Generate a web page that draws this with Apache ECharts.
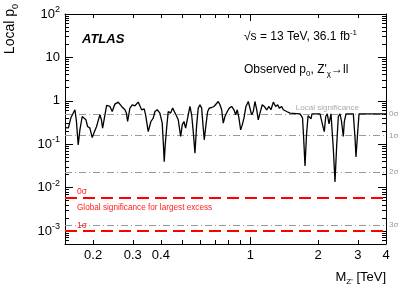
<!DOCTYPE html>
<html>
<head>
<meta charset="utf-8">
<script src="https://cdn.jsdelivr.net/npm/echarts@6/dist/echarts.min.js"></script>
<style>
html,body{margin:0;padding:0;background:#fff;}
#chart{width:407px;height:292px;}
</style>
</head>
<body>
<div id="chart"></div>
<script>
// ---- data ----
const massTeV = [
  0.150,0.1553,0.1593,0.1660,0.1685,0.1717,0.1747,0.1789,0.1820,0.1858,
  0.1890,0.1935,0.1981,0.2026,0.2072,0.2111,0.2144,0.2177,0.2204,0.2245,
  0.2296,0.2375,0.2431,0.2499,0.2585,0.2677,0.2768,0.2811,0.2846,0.2913,
  0.2983,0.3067,0.3172,0.3228,0.3284,0.3373,0.3421,0.3514,0.3612,0.3698,
  0.3763,0.3852,0.3960,0.4055,0.4105,0.4139,0.4181,0.4242,0.4312,0.4419,
  0.4510,0.4585,0.4666,0.4777,0.4896,0.4977,0.5064,0.5152,0.5292,0.5384,
  0.5479,0.5569,0.5667,0.5767,0.5861,0.5965,0.6069,0.6169,0.6233,0.6342,
  0.6454,0.6561,0.6724,0.6884,0.7026,0.7193,0.7319,0.7447,0.7570,0.7703,
  0.7887,0.8050,0.8250,0.8446,0.8593,0.8735,0.8889,0.9045,0.9196,0.9356,
  0.9550,0.9777,0.9949,1.012,1.029,1.047,1.066,1.083,1.102,1.128,
  1.152,1.180,1.208,1.233,1.263,1.294,1.321,1.343,1.376,1.399,
  1.423,1.448,1.472,1.498,1.524,1.660,1.703,1.720,1.747,1.774,
  1.802,1.830,1.857,1.876,2.037,2.073,2.107,2.128,2.159,2.194,
  2.233,2.279,2.333,2.374,2.416,2.456,2.499,2.538,2.585,2.612,
  2.658,2.863,2.913,2.943,2.983,3.035,4.0
];
const localP0 = [
  0.24,0.238,0.405,0.620,0.35,0.0963,0.214,0.434,0.475,0.364,
  0.255,0.234,0.142,0.192,0.255,0.364,0.475,0.364,0.234,0.405,
  0.779,0.739,0.566,0.839,0.933,0.739,0.620,0.520,0.333,0.678,
  0.809,0.767,0.933,0.885,0.620,0.653,0.475,0.195,0.333,0.399,
  0.566,0.620,0.520,0.305,0.0963,0.0396,0.0963,0.234,0.566,0.520,
  0.678,0.739,0.475,0.364,0.150,0.279,0.333,0.234,0.475,0.739,
  0.475,0.195,0.0620,0.279,0.678,0.809,0.678,0.234,0.126,0.279,
  0.566,0.678,0.700,0.739,0.779,0.963,0.809,0.620,0.305,0.434,
  0.566,0.678,0.739,0.620,0.475,0.620,0.399,0.214,0.279,0.399,
  0.739,0.963,0.885,0.475,0.566,0.963,0.620,0.364,0.520,0.809,
  0.739,0.620,0.739,0.620,0.933,0.739,0.809,0.678,0.739,0.620,
  0.653,0.566,0.620,0.520,0.5,0.5,0.405,0.164,0.0316,0.164,
  0.450,0.5,0.384,0.5,0.5,0.475,0.234,0.195,0.434,0.5,
  0.294,0.5,0.0808,0.0135,0.0963,0.434,0.5,0.333,0.150,0.333,
  0.5,0.5,0.142,0.0509,0.142,0.5,0.5
];
const xTickLabels = [0.2, 0.3, 0.4, 1, 2, 3, 4];
const xMinorTicks = [0.2, 0.3, 0.4, 0.5, 0.6, 0.7, 0.8, 0.9, 2, 3, 4];
const xMajorTicks = [1];
const yDecades = [0.001, 0.01, 0.1, 1, 10, 100];
const yMinorTicks = [];
[0.0001, 0.001, 0.01, 0.1, 1, 10].forEach(function (d) {
  for (let k = 2; k <= 9; k++) { const v = +(d * k).toPrecision(3); if (v >= 0.0005 && v <= 100) yMinorTicks.push(v); }
});
const localSigmaP = [0.5, 0.1587, 0.02275, 0.00135];
const localSigmaNames = ['0σ', '1σ', '2σ', '3σ'];
const globalSigmaP = [0.0057, 0.001];
const globalSigmaNames = ['0σ', '1σ'];

const FONT = "'Liberation Sans', Arial, Helvetica, sans-serif";
const X_MIN = 0.15, X_MAX = 4, Y_MIN = 0.0005, Y_MAX = 100;
const HIDDEN_LINE = { color: 'rgba(0,0,0,0)', width: 0 };

function xAx(pos, ticks, len, showLine, showLabel) {
  return {
    type: 'log', logBase: 10, min: X_MIN, max: X_MAX, position: pos,
    axisLine: { show: showLine, lineStyle: { color: '#000', width: 1 } },
    axisTick: { show: true, inside: true, length: len, customValues: ticks, lineStyle: { color: '#000', width: 1 } },
    axisLabel: showLabel ? {
      show: true, customValues: xTickLabels, fontFamily: FONT, fontSize: 13, color: '#000', margin: 5,
      formatter: function (v) { return String(+(+v).toPrecision(3)); }
    } : { show: false },
    splitLine: { show: false }, minorTick: { show: false }
  };
}
function yAx(pos, ticks, len, showLine, showLabel) {
  return {
    type: 'log', logBase: 10, min: Y_MIN, max: Y_MAX, position: pos,
    axisLine: { show: showLine, lineStyle: { color: '#000', width: 1 } },
    axisTick: { show: true, inside: true, length: len, customValues: ticks, lineStyle: { color: '#000', width: 1 } },
    axisLabel: showLabel ? {
      show: true, customValues: yDecades, fontFamily: FONT, fontSize: 13, color: '#000', margin: 5,
      lineHeight: 18,
      formatter: function (v) {
        const e = Math.round(Math.log10(+v));
        if (e === 0) return '1';
        if (e === 1) return '10';
        return '10{sup|' + e + '}';
      },
      rich: { sup: { fontSize: 9, fontFamily: FONT, color: '#000', verticalAlign: 'top', lineHeight: 18 } }
    } : { show: false },
    splitLine: { show: false }, minorTick: { show: false }
  };
}

const localMarks = [];
localSigmaP.forEach(function (p, i) {
  localMarks.push({
    yAxis: p,
    lineStyle: { color: '#999', width: 1, type: [7, 3, 1, 3] },
    label: { show: true, position: 'end', formatter: localSigmaNames[i], color: '#999', fontSize: 8, fontFamily: FONT, distance: 3 }
  });
});
localMarks.push({
  yAxis: localSigmaP[0],
  lineStyle: HIDDEN_LINE,
  label: { show: true, position: 'insideEndTop', formatter: 'Local significance', color: '#aaa', fontSize: 8, fontFamily: FONT, distance: [27, 2] }
});
const globalMarks = [
  { yAxis: globalSigmaP[0], lineStyle: { color: '#ff0000', width: 2, type: [12, 6] },
    label: { show: true, position: 'insideStartTop', formatter: globalSigmaNames[0], color: '#ff2020', fontSize: 8.5, fontFamily: FONT, distance: [12, 2] } },
  { yAxis: globalSigmaP[0], lineStyle: HIDDEN_LINE,
    label: { show: true, position: 'insideStartBottom', formatter: 'Global significance for largest excess', color: '#ff2020', fontSize: 8.2, fontFamily: FONT, distance: [12, 6] } },
  { yAxis: globalSigmaP[1], lineStyle: { color: '#ff0000', width: 2, type: [12, 6] },
    label: { show: true, position: 'insideStartTop', formatter: globalSigmaNames[1], color: '#ff2020', fontSize: 8.5, fontFamily: FONT, distance: [12, 1] } }
];

const chart = echarts.init(document.getElementById('chart'), null, { renderer: 'canvas' });
chart.setOption({
  animation: false,
  backgroundColor: '#fff',
  grid: { left: 65, right: 21, top: 14, bottom: 48, containLabel: false },
  xAxis: [
    xAx('bottom', xMinorTicks, 4, true, true),
    xAx('bottom', xMajorTicks, 7, false, false),
    xAx('top', xMinorTicks, 4, true, false),
    xAx('top', xMajorTicks, 7, false, false)
  ],
  yAxis: [
    yAx('left', yMinorTicks, 4, true, true),
    yAx('left', yDecades, 8, false, false),
    yAx('right', yMinorTicks, 4, true, false),
    yAx('right', yDecades, 8, false, false)
  ],
  series: [
    {
      type: 'line', xAxisIndex: 0, yAxisIndex: 0, data: [], z: 2, silent: true,
      markLine: { silent: true, symbol: 'none', animation: false, precision: 8, data: localMarks.concat(globalMarks) }
    },
    {
      name: 'Observed p0', type: 'line', xAxisIndex: 0, yAxisIndex: 0, z: 5,
      data: massTeV.map(function (m, i) { return [m, localP0[i]]; }),
      showSymbol: false, symbol: 'none', clip: true,
      lineStyle: { color: '#000', width: 1.3 }
    }
  ],
  graphic: [
    { type: 'text', x: 20, y: 4, rotation: Math.PI / 2,
      style: { text: 'Local p{sub|0}', fill: '#000', font: '14px ' + FONT, align: 'right', verticalAlign: 'bottom', lineHeight: 19,
        rich: { sub: { fontSize: 9, fontFamily: FONT, fill: '#000', verticalAlign: 'bottom', lineHeight: 19 } } } },
    { type: 'text', x: 386, y: 277,
      style: { text: 'M{sub|Z\'} [TeV]', fill: '#000', font: '13px ' + FONT, align: 'right', verticalAlign: 'middle', lineHeight: 18,
        rich: { sub: { fontSize: 8, fontFamily: FONT, fill: '#000', verticalAlign: 'bottom', lineHeight: 18 } } } },
    { type: 'text', x: 82, y: 39,
      style: { text: 'ATLAS', fill: '#000', font: 'italic bold 13px ' + FONT, align: 'left', verticalAlign: 'middle' } },
    { type: 'text', x: 244, y: 37,
      style: { text: '√s = 13 TeV, 36.1 fb{sup|-1}', fill: '#000', font: '12px ' + FONT, align: 'left', verticalAlign: 'middle', lineHeight: 16,
        rich: { sup: { fontSize: 8, fontFamily: FONT, fill: '#000', verticalAlign: 'top', lineHeight: 16 } } } },
    { type: 'text', x: 244, y: 70,
      style: { text: 'Observed p{sub|0}, Z\'{sub|χ}→ll', fill: '#000', font: '12px ' + FONT, align: 'left', verticalAlign: 'middle', lineHeight: 16,
        rich: { sub: { fontSize: 8, fontFamily: FONT, fill: '#000', verticalAlign: 'bottom', lineHeight: 16 } } } }
  ]
});
</script>
</body>
</html>
